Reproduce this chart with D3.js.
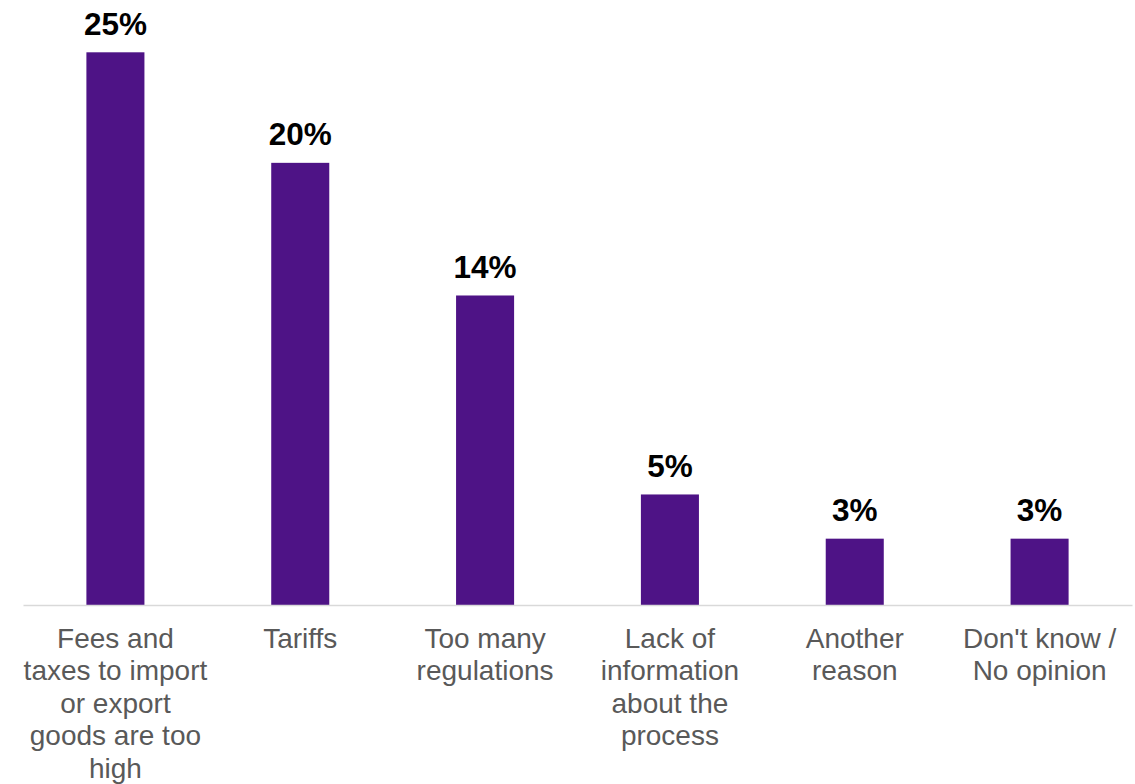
<!DOCTYPE html>
<html>
<head>
<meta charset="utf-8">
<script src="https://cdn.jsdelivr.net/npm/d3@7"></script>
<style>
  html, body { margin: 0; padding: 0; background: #fff; }
  svg { display: block; font-family: "Liberation Sans", Arial, sans-serif; }
</style>
</head>
<body>
<svg id="chart" width="1135" height="784"></svg>
<script>
// Reasons given, one bar per reason (line breaks mark label wrapping)
const categories = [
  "Fees and\ntaxes to import\nor export\ngoods are too\nhigh",
  "Tariffs",
  "Too many\nregulations",
  "Lack of\ninformation\nabout the\nprocess",
  "Another\nreason",
  "Don't know /\nNo opinion"
];
const values = [25, 20, 14, 5, 3, 3];
const valueLabels = ["25%", "20%", "14%", "5%", "3%", "3%"];

const svg = d3.select("#chart");
const margin = { left: 23, right: 3, top: 52.3, bottom: 179 };
const W = 1135, H = 784;
const baseline = H - margin.bottom;

const x = d3.scaleBand()
  .domain(categories)
  .range([margin.left, W - margin.right])
  .paddingInner(0.686)
  .paddingOuter(0.343);

const y = d3.scaleLinear()
  .domain([0, 25])
  .range([baseline, margin.top]);

// bars
svg.append("g")
  .selectAll("rect")
  .data(values)
  .join("rect")
  .attr("x", (d, i) => x(categories[i]))
  .attr("y", d => y(d))
  .attr("width", x.bandwidth())
  .attr("height", d => baseline - y(d))
  .attr("fill", "#4e1386");

// baseline axis
const xAxis = d3.axisBottom(x).tickSize(0).tickFormat("");
const axisG = svg.append("g")
  .attr("transform", `translate(0,${baseline})`)
  .call(xAxis);
axisG.select(".domain").attr("stroke", "#d9d9d9").attr("stroke-width", 1.5);

// category labels, wrapped
axisG.selectAll(".tick").each(function(d) {
  const t = d3.select(this).append("text")
    .attr("text-anchor", "middle")
    .attr("fill", "#595959")
    .attr("font-size", 28)
    .attr("y", 42.5);
  d.split("\n").forEach((line, k) => {
    t.append("tspan")
      .attr("x", 0)
      .attr("dy", k === 0 ? 0 : 32.5)
      .text(line);
  });
});

// value labels
svg.append("g")
  .selectAll("text")
  .data(values)
  .join("text")
  .attr("x", (d, i) => x(categories[i]) + x.bandwidth() / 2)
  .attr("y", d => y(d) - 17.5)
  .attr("text-anchor", "middle")
  .attr("font-size", 31.5)
  .attr("font-weight", "bold")
  .attr("fill", "#000")
  .text((d, i) => valueLabels[i]);
</script>
</body>
</html>
